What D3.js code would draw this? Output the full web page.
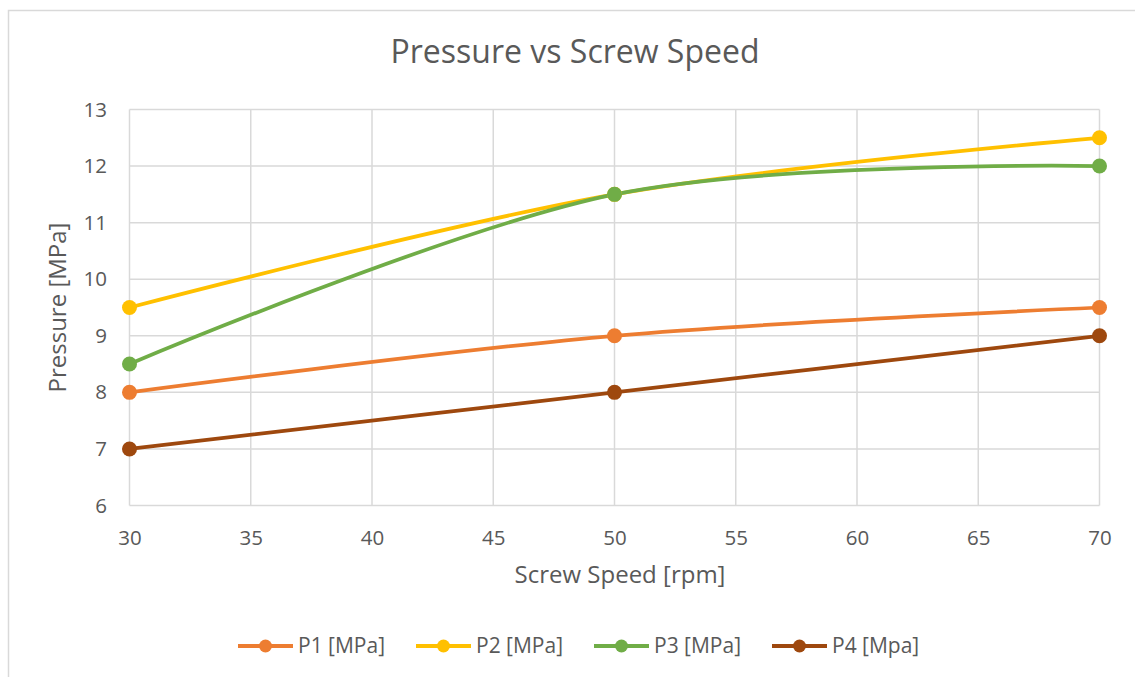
<!DOCTYPE html>
<html>
<head>
<meta charset="utf-8">
<script src="https://cdn.jsdelivr.net/npm/d3@7"></script>
<style>
  body { margin: 0; background: #fff; }
  svg text { font-family: "Open Sans", sans-serif; fill: #595959; }
</style>
</head>
<body>
<svg id="chart"></svg>
<script>
// chart data
const speeds = [30, 50, 70];
const p1 = [8, 9, 9.5];
const p2 = [9.5, 11.5, 12.5];
const p3 = [8.5, 11.5, 12];
const p4 = [7, 8, 9];
const seriesNames = ["P1 [MPa]", "P2 [MPa]", "P3 [MPa]", "P4 [Mpa]"];
const seriesColors = ["#ED7D31", "#FFC000", "#70AD47", "#9E480E"];
const xTicks = [30, 35, 40, 45, 50, 55, 60, 65, 70];
const yTicks = [6, 7, 8, 9, 10, 11, 12, 13];

const width = 1135;
const height = 677;
const margin = { top: 109.5, right: 35.5, bottom: 171.5, left: 129.5 };

const svg = d3.select("#chart").attr("width", width).attr("height", height);

// chart border (runs off the right/bottom edge like the screenshot)
svg.append("rect")
  .attr("x", 8.5).attr("y", 10.5)
  .attr("width", 1140).attr("height", 680)
  .attr("fill", "none").attr("stroke", "#d9d9d9").attr("stroke-width", 1.5);

const x = d3.scaleLinear().domain([30, 70]).range([margin.left, width - margin.right]);
const y = d3.scaleLinear().domain([6, 13]).range([height - margin.bottom, margin.top]);

// gridlines
const grid = svg.append("g").attr("stroke", "#d9d9d9").attr("stroke-width", 1.5);
grid.selectAll(".h").data(yTicks).join("line")
  .attr("x1", x(30)).attr("x2", x(70))
  .attr("y1", d => y(d)).attr("y2", d => y(d));
grid.selectAll(".v").data(xTicks).join("line")
  .attr("x1", d => x(d)).attr("x2", d => x(d))
  .attr("y1", y(6)).attr("y2", y(13));

// axes (labels only)
const xAxis = svg.append("g")
  .attr("transform", `translate(0,${y(6)})`)
  .call(d3.axisBottom(x).tickValues(xTicks).tickFormat(d3.format("d")).tickSize(0).tickPadding(24.5));
const yAxis = svg.append("g")
  .attr("transform", `translate(${x(30)},0)`)
  .call(d3.axisLeft(y).tickValues(yTicks).tickFormat(d3.format("d")).tickSize(0).tickPadding(22.5));
[xAxis, yAxis].forEach(a => {
  a.select(".domain").remove();
  a.selectAll("text")
    .style("font-family", "'Open Sans', sans-serif")
    .style("font-size", "20.5px")
    .style("fill", "#595959");
});

// lines + markers
const series = [p1, p2, p3, p4].map((vals, i) => ({
  name: seriesNames[i],
  color: seriesColors[i],
  points: speeds.map((s, j) => ({ x: s, y: vals[j] }))
}));

const line = d3.line()
  .x(d => x(d.x))
  .y(d => y(d.y))
  .curve(d3.curveCardinal.tension(0));

series.forEach(s => {
  svg.append("path")
    .datum(s.points)
    .attr("d", line)
    .attr("fill", "none")
    .attr("stroke", s.color)
    .attr("stroke-width", 3.75)
    .attr("stroke-linecap", "round");
});
series.forEach(s => {
  svg.append("g").selectAll("circle")
    .data(s.points)
    .join("circle")
    .attr("cx", d => x(d.x))
    .attr("cy", d => y(d.y))
    .attr("r", 7.5)
    .attr("fill", s.color);
});

// title
svg.append("text")
  .attr("x", 575).attr("y", 63)
  .attr("text-anchor", "middle")
  .style("font-size", "32px")
  .text("Pressure vs Screw Speed");

// axis titles
svg.append("text")
  .attr("x", 620).attr("y", 583)
  .attr("text-anchor", "middle")
  .style("font-size", "24px")
  .text("Screw Speed [rpm]");

svg.append("text")
  .attr("transform", `translate(66,${(y(6) + y(13)) / 2}) rotate(-90)`)
  .attr("text-anchor", "middle")
  .style("font-size", "24px")
  .text("Pressure [MPa]");

// legend
const legend = svg.append("g").attr("transform", "translate(238,646)");
const items = legend.selectAll("g").data(series).join("g")
  .attr("transform", (d, i) => `translate(${i * 178},0)`);
items.append("line")
  .attr("x1", 0).attr("x2", 55)
  .attr("stroke", d => d.color).attr("stroke-width", 4);
items.append("circle")
  .attr("cx", 27.5).attr("r", 6.5)
  .attr("fill", d => d.color);
items.append("text")
  .attr("x", 60).attr("dy", "0.35em")
  .style("font-size", "21px")
  .text(d => d.name);
</script>
</body>
</html>
